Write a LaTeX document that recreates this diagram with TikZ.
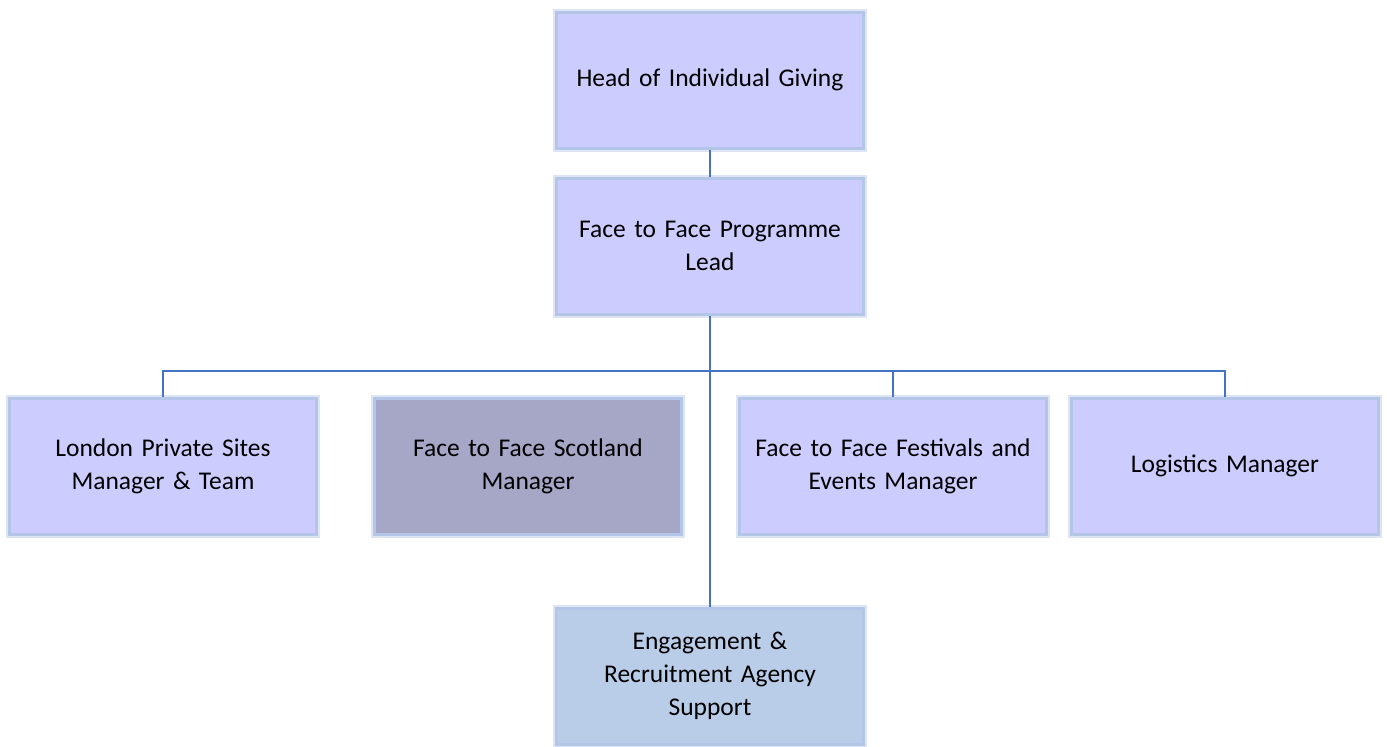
\documentclass[tikz,border=0pt]{standalone}
\usepackage{fontspec}
\setmainfont{Carlito}
\definecolor{boxfill}{HTML}{CCCCFF}
\definecolor{boxedge}{HTML}{B4C6E8}
\definecolor{darkfill}{HTML}{A6A6C6}
\definecolor{agencyfill}{HTML}{BACDE8}
\definecolor{linkcol}{HTML}{4472C4}
\begin{document}
\begin{tikzpicture}[x=1pt,y=-1pt,
  orgbox/.style={draw=boxedge, line width=3pt, fill=boxfill, minimum width=307pt, minimum height=136pt,
     inner sep=0pt, align=center, font=\fontsize{25.5}{33}\selectfont, text width=300pt,
     preaction={draw=boxedge!45, line width=7pt}},
  link/.style={draw=linkcol, line width=1.6pt}]
\useasboundingbox (0,0) rectangle (1387,747);
\node[orgbox] (head) at (710,80) {Head of Individual Giving};
\node[orgbox] (lead) at (710,246) {Face to Face Programme\\Lead};
\node[orgbox] (london) at (163,466) {London Private Sites\\Manager \& Team};
\node[orgbox, fill=darkfill] (scot) at (528,466) {Face to Face Scotland\\Manager};
\node[orgbox] (fest) at (893,466) {Face to Face Festivals and\\Events Manager};
\node[orgbox] (logi) at (1225,466) {Logistics Manager};
\node[orgbox, fill=agencyfill] (agency) at (710,676) {Engagement \&\\Recruitment Agency\\Support};
\coordinate (bar) at (710,371);
\draw[link] (head.south) -- (lead.north);
\draw[link] (lead.south) -- (agency.north);
\draw[link] (london.north) |- (bar) -| (logi.north);
\draw[link] (fest.north) -- (fest.north |- bar);
\end{tikzpicture}
\end{document}
